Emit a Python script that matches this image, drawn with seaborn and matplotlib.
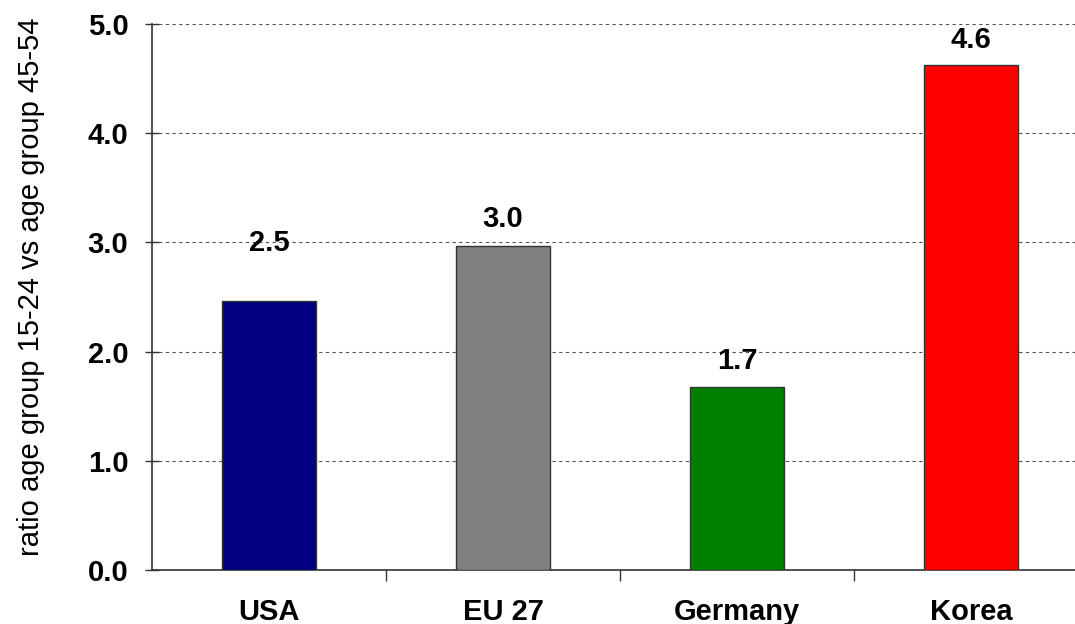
import pandas as pd
import seaborn as sns
import matplotlib.pyplot as plt
from matplotlib.ticker import FixedLocator

# values
countries = ["USA", "EU 27", "Germany", "Korea"]
ratios = [2.46, 2.97, 1.68, 4.62]
bar_colors = ["#000080", "#808080", "#008000", "#FF0000"]
y_ticks = [0.0, 1.0, 2.0, 3.0, 4.0, 5.0]
label_offsets = [0.53, 0.24, 0.23, 0.23]

df = pd.DataFrame({"country": countries, "ratio": ratios})

sns.set_style("white")
plt.rcParams["font.family"] = ["Liberation Sans", "DejaVu Sans"]

fig = plt.figure(figsize=(10.75, 6.24), dpi=100)
ax = fig.add_axes([152 / 1075, 54 / 624, 936 / 1075, 546 / 624])

sns.barplot(data=df, x="country", y="ratio", hue="country", palette=bar_colors,
            saturation=1, width=0.4, edgecolor="#333333", linewidth=1,
            legend=False, ax=ax, zorder=3)

# value labels above bars
for i, (v, off) in enumerate(zip(ratios, label_offsets)):
    ax.text(i, v + off, f"{v:.1f}", ha="center", va="center",
            fontsize=21, fontweight="bold", color="black")

ax.set_xlim(-0.5, 3.5)
ax.set_ylim(0, 5)
ax.set_yticks(y_ticks)
ax.set_yticklabels([f"{t:.1f}" for t in y_ticks], fontsize=21, fontweight="bold", color="black")
ax.set_xticks(range(len(countries)))
ax.set_xticklabels(countries, fontsize=21, fontweight="bold", color="black")
ax.xaxis.set_minor_locator(FixedLocator([0.5, 1.5, 2.5]))
ax.tick_params(axis="x", which="major", bottom=True, length=0, pad=20)
ax.tick_params(axis="x", which="minor", bottom=True, length=8, width=1,
               color="#333333", direction="out")
ax.tick_params(axis="y", left=True, length=10, width=1, color="#333333",
               direction="inout", pad=12)

ax.yaxis.grid(True, linestyle=(0, (3, 3)), color="#555555", linewidth=0.8, zorder=0)
ax.set_axisbelow(True)

for side in ["top", "right"]:
    ax.spines[side].set_visible(False)
for side in ["left", "bottom"]:
    ax.spines[side].set_color("#333333")
    ax.spines[side].set_linewidth(1.2)

ax.set_xlabel("")
ax.set_ylabel("ratio age group 15-24 vs age group 45-54", fontsize=21, color="black")
ax.yaxis.set_label_coords(-0.114, 0.518)

fig.savefig("out.png", dpi=100)
